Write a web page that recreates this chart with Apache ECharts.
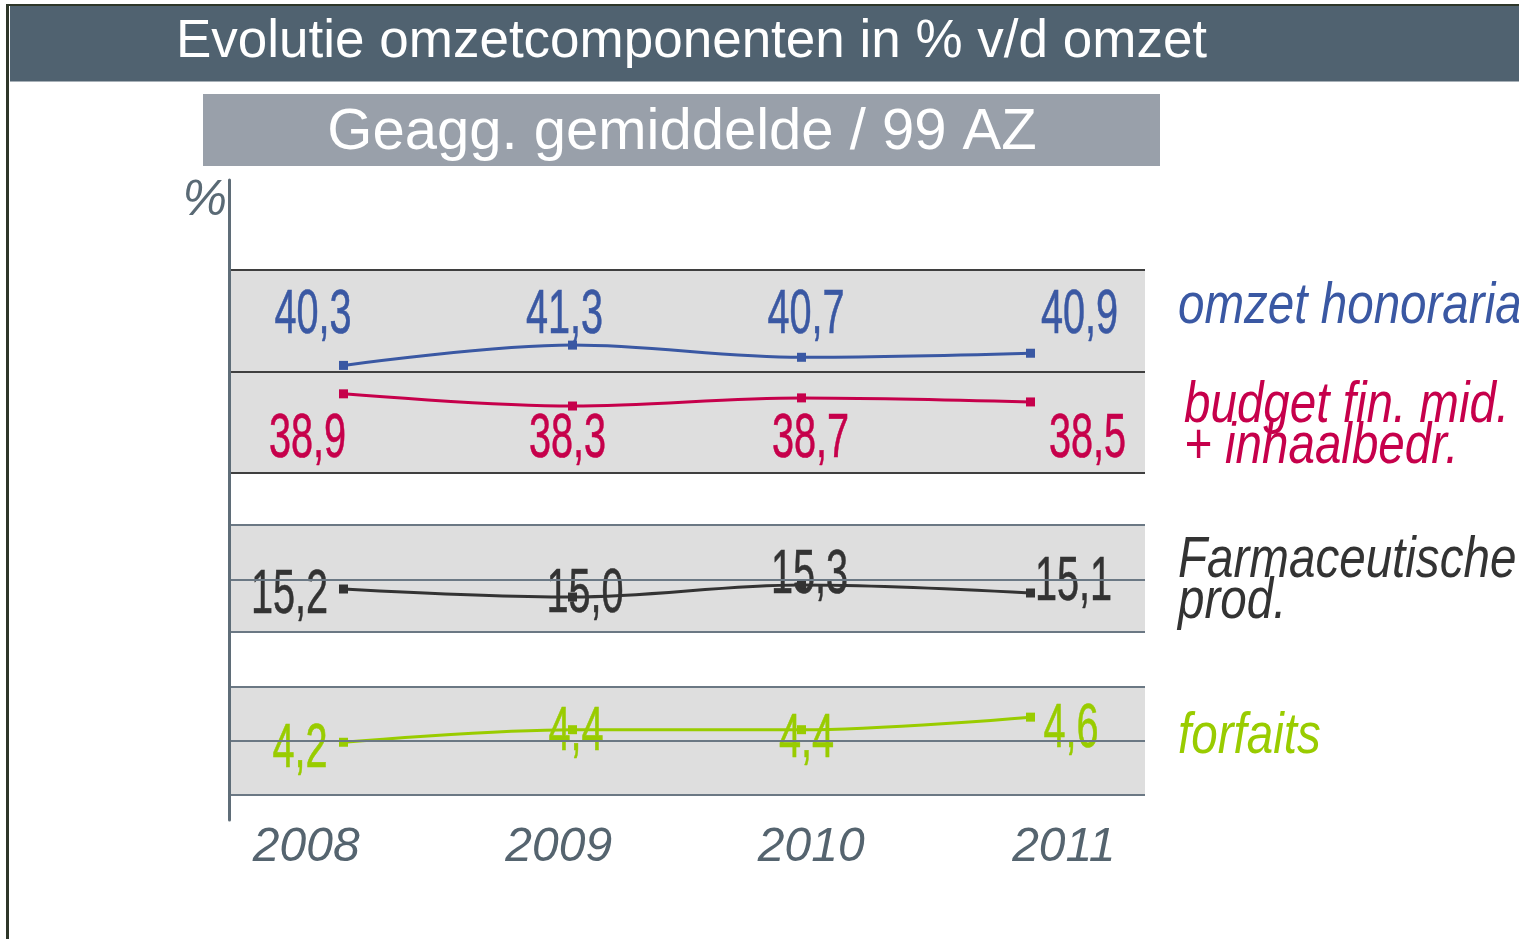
<!DOCTYPE html>
<html><head><meta charset="utf-8">
<script src="https://cdn.jsdelivr.net/npm/echarts@6/dist/echarts.min.js"></script>
<style>html,body{margin:0;padding:0;background:#fff;overflow:hidden}#c{width:1519px;height:939px}</style>
</head><body><div id="c"></div>
<script>
// ---- data ----
const years = ['2008', '2009', '2010', '2011'];
const honoraria = [40.3, 41.3, 40.7, 40.9];
const budget = [38.9, 38.3, 38.7, 38.5];
const farma = [15.2, 15.0, 15.3, 15.1];
const forfaits = [4.2, 4.4, 4.4, 4.6];
const seriesNames = ['omzet honoraria', 'budget fin. mid.\n+ inhaalbedr.', 'Farmaceutische\nprod.', 'forfaits'];
const titleText = 'Evolutie omzetcomponenten in % v/d omzet';
const subtitleText = 'Geagg. gemiddelde / 99 AZ';
const unitText = '%';

// ---- styles ----
const colors = { hon: '#3a58a3', bud: '#c6004b', farma: '#333333', forf: '#99cc00' };
const labelOffsets = {
  hon: [[-30.5, -50], [-8, -29.7], [4.5, -41.9], [49, -37.8]],
  bud: [[-36, 46.1], [-5, 33.9], [9, 42], [57, 38]],
  farma: [[-54, 6.4], [12.5, -2.6], [8, -9.6], [43, -10.6]],
  forf: [[-43.5, 7.1], [3.5, 2.7], [5, 9.7], [40.5, 12.3]]
};
const bands = [
  { top: 270, height: 203, min: 35, max: 45, mid: 40, line: '#3f3f3f' },
  { top: 525, height: 107, min: 14.125, max: 16.8, mid: 15.43, line: '#6b7884' },
  { top: 687, height: 108, min: 3.36, max: 5.08, mid: 4.22, line: '#6b7884' }
];
const LEFT = 229, WIDTH = 916;
const numFont = '"Liberation Sans", Arial, sans-serif';

const chart = echarts.init(document.getElementById('c'), null, { renderer: 'canvas' });

const grids = [], xAxes = [], yAxes = [], series = [];
bands.forEach((b, i) => {
  grids.push({ left: LEFT, top: b.top, width: WIDTH, height: b.height, show: true,
    backgroundColor: '#dedede', borderWidth: 0, containLabel: false });
  xAxes.push({ type: 'category', gridIndex: i, data: years, boundaryGap: true, show: false });
  yAxes.push({ type: 'value', gridIndex: i, min: b.min, max: b.max, show: false });
  series.push({ type: 'line', xAxisIndex: i, yAxisIndex: i, data: [], z: 1, silent: true, clip: false,
    markLine: { silent: true, symbol: 'none', label: { show: false },
      lineStyle: { color: b.line, width: 2, type: 'solid' }, emphasis: { disabled: true },
      data: [{ yAxis: b.max }, { yAxis: b.mid }, { yAxis: b.min }] } });
});
// axis grid (vertical axis line + % name)
grids.push({ left: LEFT, top: 180, width: WIDTH, height: 640, show: false });
xAxes.push({ type: 'category', gridIndex: 3, data: years, show: false });
yAxes.push({ type: 'value', gridIndex: 3, min: 0, max: 1, z: 6,
  axisLine: { show: true, lineStyle: { color: '#5f6d78', width: 3 } },
  axisTick: { show: false }, axisLabel: { show: false }, splitLine: { show: false },
  name: unitText, nameLocation: 'end', nameGap: -21,
  nameTextStyle: { fontSize: 50, fontStyle: 'italic', color: '#5a6a75', fontFamily: numFont,
    align: 'right', verticalAlign: 'middle', padding: [0, 2, 0, 0] } });
// year label grid
grids.push({ left: 180, top: 800, width: 1010, height: 15, show: false });
xAxes.push({ type: 'category', gridIndex: 4, data: years, boundaryGap: true,
  axisLine: { show: false }, axisTick: { show: false },
  axisLabel: { fontSize: 48, fontStyle: 'italic', color: '#55646f', fontFamily: numFont,
    margin: 33, verticalAlign: 'middle' } });
yAxes.push({ type: 'value', gridIndex: 4, show: false });

function lineSeries(name, idx, values, color) {
  return { name, type: 'line', xAxisIndex: idx, yAxisIndex: idx, data: values, z: 3,
    smooth: 0.35, smoothMonotone: 'x', symbol: 'rect', symbolSize: 9, showSymbol: true,
    lineStyle: { color, width: 3 }, itemStyle: { color }, label: { show: false },
    emphasis: { disabled: true }, silent: true, clip: false };
}
function labelSeries(idx, values, color, offsets) {
  return { type: 'custom', xAxisIndex: idx, yAxisIndex: idx, z: 4, silent: true,
    data: values.map((v, i) => [i, v]),
    renderItem(params, api) {
      const i = params.dataIndex;
      const p = api.coord([api.value(0), api.value(1)]);
      const o = offsets[i];
      return { type: 'text', x: p[0] + o[0], y: p[1] + o[1], scaleX: 0.63,
        style: { text: api.value(1).toFixed(1).replace('.', ','), fill: color,
          stroke: color, lineWidth: 0.6,
          fontSize: 63, fontFamily: numFont, align: 'center', verticalAlign: 'middle' } };
    } };
}
series.push(lineSeries(seriesNames[0], 0, honoraria, colors.hon));
series.push(lineSeries(seriesNames[1], 0, budget, colors.bud));
series.push(lineSeries(seriesNames[2], 1, farma, colors.farma));
series.push(lineSeries(seriesNames[3], 2, forfaits, colors.forf));
series.push(labelSeries(0, honoraria, colors.hon, labelOffsets.hon));
series.push(labelSeries(0, budget, colors.bud, labelOffsets.bud));
series.push(labelSeries(1, farma, colors.farma, labelOffsets.farma));
series.push(labelSeries(2, forfaits, colors.forf, labelOffsets.forf));

function legendText(text, x, y, color) {
  return { type: 'text', x, y, scaleX: 0.82, z: 10, silent: true,
    style: { text, fill: color, fontSize: 58, fontStyle: 'italic', fontFamily: numFont,
      lineHeight: 41, align: 'left', verticalAlign: 'middle' } };
}

chart.setOption({
  animation: false,
  backgroundColor: '#ffffff',
  title: { text: titleText, left: 176, top: 16, padding: 0, z: 10,
    textStyle: { color: '#ffffff', fontSize: 53, fontWeight: 'normal', fontFamily: numFont } },
  grid: grids, xAxis: xAxes, yAxis: yAxes, series,
  graphic: [
    { type: 'rect', z: 1, silent: true, shape: { x: 10, y: 6, width: 1509, height: 75.5 }, style: { fill: '#506270' } },
    { type: 'rect', z: 2, silent: true, shape: { x: 6, y: 4, width: 1513, height: 2 }, style: { fill: '#2e3629' } },
    { type: 'rect', z: 2, silent: true, shape: { x: 6, y: 4, width: 3, height: 935 }, style: { fill: '#2e3629' } },
    { type: 'rect', z: 1, silent: true, shape: { x: 203, y: 94, width: 957, height: 72 }, style: { fill: '#99a0aa' } },
    { type: 'text', z: 10, silent: true, x: 682, y: 133,
      style: { text: subtitleText, fill: '#ffffff', fontSize: 58, fontFamily: numFont, align: 'center', verticalAlign: 'middle' } },
    legendText(seriesNames[0], 1178, 307, colors.hon),
    legendText(seriesNames[1], 1184, 426.5, colors.bud),
    legendText(seriesNames[2], 1178, 581.5, colors.farma),
    legendText(seriesNames[3], 1178, 737, colors.forf)
  ]
});
</script></body></html>
